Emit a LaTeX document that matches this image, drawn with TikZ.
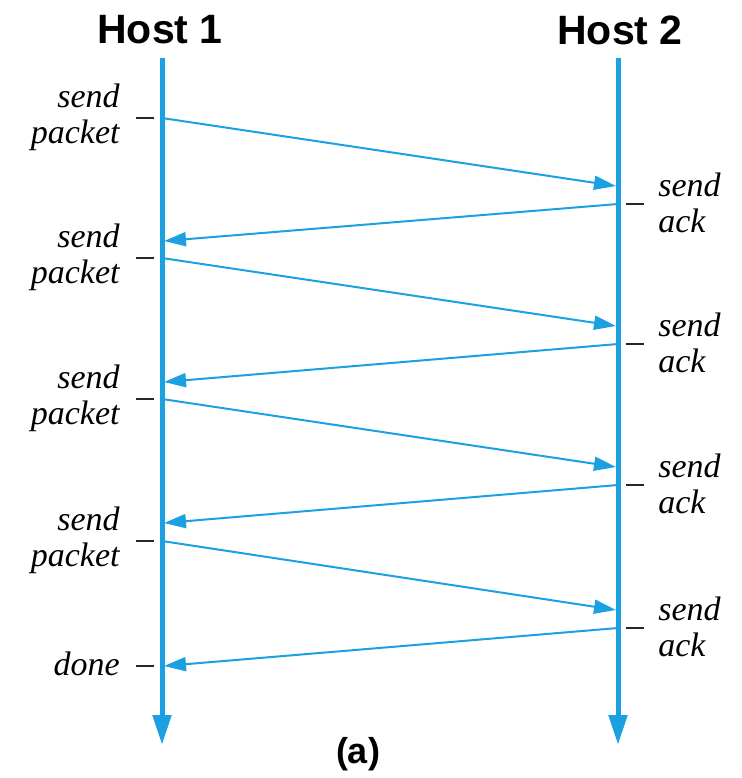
\documentclass[tikz,border=0pt]{standalone}
\usepackage{fontspec}
\setmainfont{Liberation Serif}
\setsansfont{Liberation Sans}
\usetikzlibrary{arrows.meta}
\definecolor{hostblue}{RGB}{27,161,226}
\tikzset{
  hostname/.style={font=\sffamily\bfseries\fontsize{20.5}{24}\selectfont, inner sep=0pt},
  leftev/.style={font=\itshape\fontsize{17}{18}\selectfont, align=right, anchor=east, inner sep=0pt},
  rightev/.style={font=\itshape\fontsize{17}{18}\selectfont, align=left, anchor=west, inner sep=0pt},
  timeline/.style={hostblue, line width=2.5pt, -{Triangle[length=15pt,width=9pt]}},
  msg/.style={hostblue, line width=1pt, -{Triangle[length=11pt,width=7pt]}},
  tickmark/.style={black!85, line width=1pt}
}
\begin{document}
\begin{tikzpicture}[x=0.5pt,y=-0.5pt]
    \useasboundingbox (0,0) rectangle (741,778);

    \node[hostname] (H1) at (160,30) {Host 1};
    \node[hostname] (H2) at (620,30) {Host 2};

    \coordinate (T1) at (162,58);
    \coordinate (B1) at (162,745);
    \coordinate (T2) at (618,58);
    \coordinate (B2) at (618,745);

    \draw[timeline] (T1) -- (B1);
    \draw[timeline] (T2) -- (B2);

    % host 1 side
    \coordinate (S1) at (162,118);
    \coordinate (S2) at (162,258);
    \coordinate (S3) at (162,399);
    \coordinate (S4) at (162,541);

    \coordinate (Q1) at (164,241);
    \coordinate (Q2) at (164,382);
    \coordinate (Q3) at (164,523);
    \coordinate (Q4) at (164,666);

    % host 2 side
    \coordinate (R1) at (616,186);
    \coordinate (R2) at (616,326);
    \coordinate (R3) at (616,467);
    \coordinate (R4) at (616,610);

    \coordinate (K1) at (618,204);
    \coordinate (K2) at (618,344);
    \coordinate (K3) at (618,485);
    \coordinate (K4) at (618,628);

    \draw[msg] (S1) -- (R1);
    \draw[msg] (K1) -- (Q1);
    \draw[msg] (S2) -- (R2);
    \draw[msg] (K2) -- (Q2);
    \draw[msg] (S3) -- (R3);
    \draw[msg] (K3) -- (Q3);
    \draw[msg] (S4) -- (R4);
    \draw[msg] (K4) -- (Q4);

    \draw[tickmark] ([xshift=-4pt]S1) -- ++(-18,0);
    \draw[tickmark] ([xshift=-4pt]S2) -- ++(-18,0);
    \draw[tickmark] ([xshift=-4pt]S3) -- ++(-18,0);
    \draw[tickmark] ([xshift=-4pt]S4) -- ++(-18,0);
    \draw[tickmark] ([xshift=-5pt]Q4) -- ++(-18,0);

    \draw[tickmark] ([xshift=4pt]K1) -- ++(18,0);
    \draw[tickmark] ([xshift=4pt]K2) -- ++(18,0);
    \draw[tickmark] ([xshift=4pt]K3) -- ++(18,0);
    \draw[tickmark] ([xshift=4pt]K4) -- ++(18,0);

    \node[leftev] (L1) at (120,117) {send\\packet};
    \node[leftev] (L2) at (120,257) {send\\packet};
    \node[leftev] (L3) at (120,398) {send\\packet};
    \node[leftev] (L4) at (120,540) {send\\packet};
    \node[leftev] (L5) at (120,664) {done};

    \node[rightev] (A1) at (658,203) {send\\ack};
    \node[rightev] (A2) at (658,343) {send\\ack};
    \node[rightev] (A3) at (658,484) {send\\ack};
    \node[rightev] (A4) at (658,627) {send\\ack};

    \node[hostname, font=\sffamily\bfseries\fontsize{18}{20}\selectfont] (cap) at (358,754) {(a)};

\end{tikzpicture}
\end{document}
